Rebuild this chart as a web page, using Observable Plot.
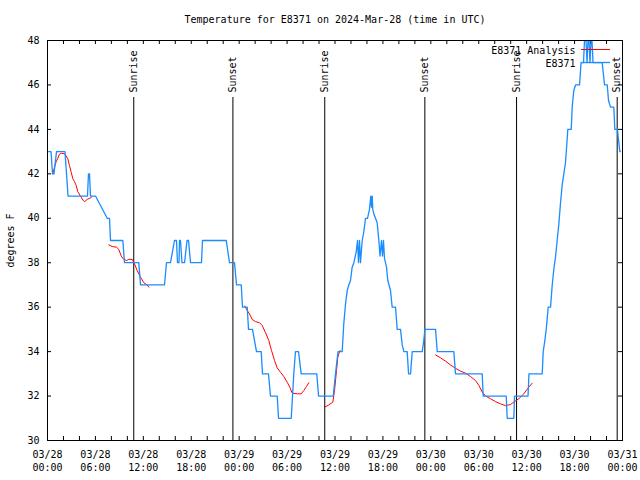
<!DOCTYPE html>
<html>
<head>
<meta charset="utf-8">
<script src="https://cdn.jsdelivr.net/npm/d3@7"></script>
<script src="https://cdn.jsdelivr.net/npm/@observablehq/plot@0.6"></script>
<style>
  html, body { margin: 0; padding: 0; background: #fff; }
  svg { display: block; }
</style>
</head>
<body>
<div id="chart"></div>
<script>
// ---------------- data ----------------
const titleText = "Temperature for E8371 on 2024-Mar-28 (time in UTC)";
const yLabel = "degrees F";
const startTime = "2024-03-28T00:00:00Z";
const endTime = "2024-03-31T00:00:00Z";

// observed station temperatures (hours since 03/28 00:00 UTC, deg F)
const obsHours = [0.13,0.44,0.63,0.81,1.13,2.19,2.57,5.01,5.13,5.26,5.38,6.01,7.48,7.76,7.89,9.43,9.64,11.43,11.65,14.65,
  14.90,15.40,15.90,16.15,16.28,16.47,16.53,16.65,16.84,17.16,17.47,17.66,17.91,19.28,19.41,22.38,22.79,23.42,23.67,24.26,
  24.42,25.01,25.17,25.67,26.17,26.76,26.92,27.67,27.92,28.76,28.93,30.52,30.68,30.84,31.05,31.43,31.77,33.72,33.94,35.78,
  36.06,36.38,36.90,37.10,37.32,37.53,37.73,37.94,38.15,38.36,38.66,38.82,38.94,39.07,39.19,39.41,39.61,39.82,40.07,40.32,
  40.48,40.57,40.66,40.73,40.86,41.07,41.28,41.49,41.64,41.82,41.95,42.07,42.20,42.45,42.61,42.95,43.16,43.58,43.79,44.20,
  44.42,44.62,45.04,45.21,45.46,45.67,46.92,47.12,47.25,48.59,48.80,50.88,51.09,54.43,54.56,57.44,57.56,58.39,58.48,60.17,
  60.29,61.95,62.07,62.24,62.45,62.70,62.99,63.20,63.40,63.61,63.82,64.03,64.24,64.45,64.65,64.86,65.08,65.15,65.58,65.70,
  65.90,66.12,66.62,66.81,67.12,67.24,67.43,67.56,67.68,67.81,67.93,68.06,68.18,68.31,69.46,69.75,70.09,70.25,70.50,70.91,
  71.04,71.21,71.38,71.46,71.67,71.75];
const obsTemps = [43,43,42,42,43,43,41,41,42,42,41,41,40,40,39,39,38,38,37,37,
  38,38,39,39,38,38,39,39,38,38,39,39,38,38,39,39,38,38,37,37,
  36,36,35,35,34,34,33,33,32,32,31,31,32,33,34,34,33,33,32,32,
  33,34,34,35.25,36.15,36.75,37,37.2,37.8,38,38.5,39,38,39,38,39,39.4,40,40,40.4,
  41,40.5,41,40.4,40.2,40,39.8,39,38.3,39,38.3,39,38.2,37.8,37.2,36.75,36,36,35,35,
  34.3,34,34,33,33,34,34,34.5,35,35,34,34,33,33,32,32,31,31,32,32,
  33,33,34,34.4,35,36,36,37,37.7,38.25,39,39.75,40.7,41.5,42,42.5,43.6,44,44,45,
  45.75,46,46,47,47,48,48,47,48,48,47,48,48,47,47,46,46,45.3,45,45,
  44,44,44,43.65,43,43];

// analysis temperatures, in separate runs
const anaRun = [1,1,1,1,1,1,1,1,1,1,1,1,1,1,1,1,1,1,1,1,1,
  2,2,2,2,2,2,2,2,2,2,2,2,2,2,2,
  3,3,3,3,3,3,3,3,3,3,3,3,3,3,3,3,3,3,3,3,3,3,
  4,4,4,4,4,4,4,4,
  5,5,5,5,5,5,5,5,5,5,5,5,5,5,5,5,5,5,5,5,5,5];
const anaHours = [0.66,0.88,1.09,1.29,1.50,1.72,2.13,2.34,2.54,2.75,2.97,3.17,3.38,3.59,3.79,4.13,4.47,4.67,4.97,5.30,5.51,
  7.68,8.10,8.64,8.93,9.23,9.55,9.89,10.18,10.61,10.89,11.23,11.65,12.06,12.48,12.69,
  24.71,25.01,25.29,25.63,26.05,26.55,26.88,27.30,27.71,28.05,28.43,28.76,29.18,29.59,30.02,30.34,30.64,31.27,31.77,32.09,32.43,32.72,
  34.72,35.22,35.73,35.94,36.19,36.35,36.56,36.63,
  48.59,49.21,49.84,50.46,51.09,51.72,52.34,52.97,53.59,54.01,54.43,54.85,55.47,56.10,56.72,57.35,57.98,58.39,59.02,59.64,60.27,60.69];
const anaTemps = [42.0,42.3,42.55,42.7,42.88,42.93,42.9,42.8,42.68,42.37,42.07,41.78,41.65,41.48,41.2,41.0,40.8,40.75,40.85,40.9,40.95,
  38.8,38.73,38.7,38.6,38.3,38.15,38.1,38.15,38.15,37.95,37.65,37.35,37.1,37.0,36.9,
  36.05,35.85,35.7,35.45,35.35,35.3,35.18,34.85,34.5,34.05,33.6,33.27,33.07,32.88,32.62,32.4,32.13,32.1,32.1,32.25,32.43,32.6,
  31.5,31.6,31.73,32.25,33.15,33.75,34.0,34.05,
  33.85,33.72,33.57,33.4,33.25,33.12,33.03,32.88,32.7,32.48,32.18,32.0,31.88,31.75,31.65,31.57,31.62,31.73,31.88,32.1,32.4,32.58];

// sunrise / sunset markers
const eventLabels = ["Sunrise","Sunset","Sunrise","Sunset","Sunrise","Sunset"];
const eventTimes = ["2024-03-28T10:48Z","2024-03-28T23:13Z","2024-03-29T10:43Z","2024-03-29T23:15Z","2024-03-30T10:44Z","2024-03-30T23:20Z"];

// axis ticks
const xLabelStepHours = 6;
const xTickStepHours = 2;
const yTicks = [30,32,34,36,38,40,42,44,46,48];
const legendNames = ["E8371 Analysis","E8371"];
const colors = {analysis: "#ff0000", obs: "#1a8cff"};

// ---------------- build ----------------
const t0 = new Date(startTime), t1 = new Date(endTime);
const atHour = h => new Date(+t0 + h * 3600e3);
const obs = obsHours.map((h, i) => ({time: atHour(h), temp: obsTemps[i]}));
const ana = anaHours.map((h, i) => ({time: atHour(h), temp: anaTemps[i], run: anaRun[i]}));
const events = eventTimes.map((t, i) => ({time: new Date(t), label: eventLabels[i]}));
const labelTicks = d3.utcHour.every(xLabelStepHours).range(t0, new Date(+t1 + 1));
const minorTicks = d3.utcHour.every(xTickStepHours).range(t0, new Date(+t1 + 1));
const fmt = d3.utcFormat("%m/%d\n%H:%M");

const W = 640, H = 480;
const M = {top: 40, right: 18, bottom: 40, left: 47};
const innerH = H - M.top - M.bottom, innerW = W - M.left - M.right;
const tick = 4;

const plot = Plot.plot({
  width: W, height: H,
  marginTop: M.top, marginRight: M.right, marginBottom: M.bottom, marginLeft: M.left,
  style: {fontFamily: "'DejaVu Sans Mono', monospace", fontSize: "10px", background: "#fff", color: "#000"},
  x: {type: "utc", domain: [t0, t1]},
  y: {domain: [30, 48]},
  marks: [
    // inward ticks on all four sides
    Plot.ruleX(minorTicks, {x: d => d, insetTop: innerH - tick, stroke: "#000"}),
    Plot.ruleX(minorTicks, {x: d => d, insetBottom: innerH - tick, stroke: "#000"}),
    Plot.ruleY(yTicks, {y: d => d, insetRight: innerW - tick, stroke: "#000"}),
    Plot.ruleY(yTicks, {y: d => d, insetLeft: innerW - tick, stroke: "#000"}),
    Plot.axisX({ticks: labelTicks, tickFormat: fmt, tickSize: 0, tickPadding: 8, lineHeight: 1.3, label: null}),
    Plot.axisY({ticks: yTicks, tickSize: 0, tickPadding: 8, label: null}),
    // sunrise / sunset
    Plot.ruleX(events, {x: "time", insetTop: 57, stroke: "#000", strokeWidth: 1}),
    Plot.text(events, {x: "time", text: "label", frameAnchor: "top", rotate: -90, textAnchor: "start", lineAnchor: "middle", dy: 52, fill: "#000"}),
    // series
    Plot.line(ana, {x: "time", y: "temp", z: "run", stroke: colors.analysis, strokeWidth: 1, clip: true}),
    Plot.line(obs, {x: "time", y: "temp", stroke: colors.obs, strokeWidth: 1.3, clip: true}),
    Plot.frame({stroke: "#000", strokeWidth: 1}),
    // titles
    Plot.text([titleText], {frameAnchor: "top", lineAnchor: "middle", dy: -21, fill: "#000"}),
    Plot.text([yLabel], {frameAnchor: "left", rotate: -90, textAnchor: "middle", lineAnchor: "middle", dx: -37, fill: "#000"}),
    // legend labels
    Plot.text([legendNames[0]], {frameAnchor: "top-right", textAnchor: "end", lineAnchor: "middle", dx: -47, dy: 10, fill: "#000"}),
    Plot.text([legendNames[1]], {frameAnchor: "top-right", textAnchor: "end", lineAnchor: "middle", dx: -47, dy: 23, fill: "#000"})
  ]
});
document.getElementById("chart").appendChild(plot);

// legend swatches
const svg = d3.select(plot);
const right = W - M.right;
[[colors.analysis, M.top + 9.5], [colors.obs, M.top + 22.5]].forEach(([c, y]) => {
  svg.append("line")
    .attr("x1", right - 41).attr("x2", right - 12)
    .attr("y1", y).attr("y2", y)
    .attr("stroke", c).attr("stroke-width", c === colors.obs ? 1.3 : 1);
});
</script>
</body>
</html>
